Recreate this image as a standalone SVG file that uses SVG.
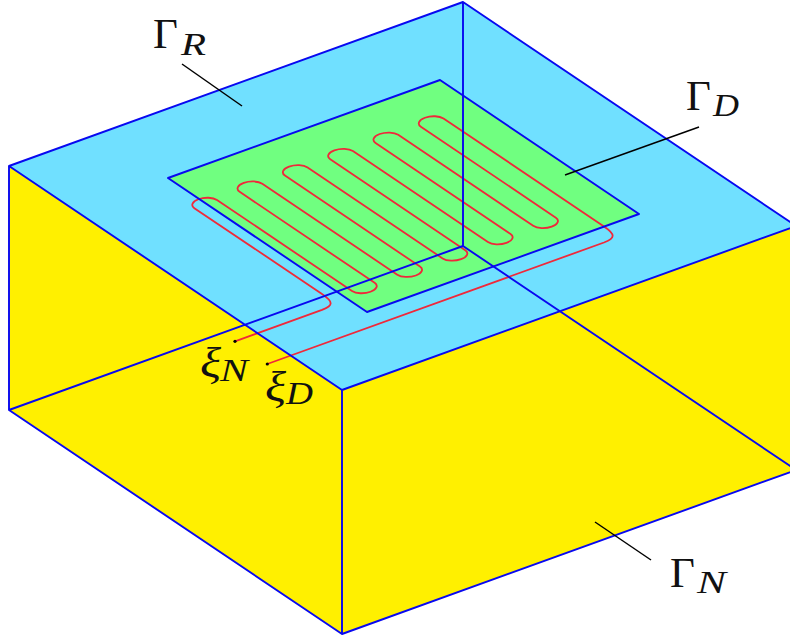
<svg xmlns="http://www.w3.org/2000/svg" width="790" height="641" viewBox="0 0 790 641">
<style>
.e{fill:none;stroke:#0808f0;stroke-width:1.9;stroke-linejoin:round}
.l{stroke:#000;stroke-width:1.5;fill:none}
.G{font-family:"Liberation Serif",serif;font-size:43px;fill:#111}
.s{font-family:"Liberation Serif",serif;font-style:italic;font-size:32px;fill:#111}
.x{font-family:"Liberation Serif",serif;font-style:italic;font-size:42px;fill:#111}
</style>
<rect width="790" height="641" fill="#fff"/>
<g id="face-left"><polygon points="9,166 342,390 342,634 9,410" fill="#fff000"/></g>
<g id="face-right"><polygon points="342,390 796,226 796,470 342,634" fill="#fff000"/></g>
<g id="face-top"><polygon points="9,166 463,2 796,226 342,390" fill="#70e0ff"/></g>
<g id="plate"><polygon points="168,178 440,80 639,214 367,312" fill="#70ff80"/></g>
<g id="heater"><path fill="none" stroke="#f0283a" stroke-width="1.8" d="M235,341.3 L322,309.9 C333.55,305.4 333.55,301.7 322,293.9 L194.35,208.15
c-3.96,-2.67 -2.1,-6.68 4.125,-8.925 c6.23,-2.24 14.565,-1.895 18.525,.775 l135,91 c3.96,2.67 12.295,3.015 18.525,.775 c6.23,-2.24 8.085,-6.255 4.125,-8.925 l-135,-91
c-3.96,-2.67 -2.1,-6.68 4.125,-8.925 c6.23,-2.24 14.565,-1.895 18.525,.775 l135,91 c3.96,2.67 12.295,3.015 18.525,.775 c6.23,-2.24 8.085,-6.255 4.125,-8.925 l-135,-91
c-3.96,-2.67 -2.1,-6.68 4.125,-8.925 c6.23,-2.24 14.565,-1.895 18.525,.775 l135,91 c3.96,2.67 12.295,3.015 18.525,.775 c6.23,-2.24 8.085,-6.255 4.125,-8.925 l-135,-91
c-3.96,-2.67 -2.1,-6.68 4.125,-8.925 c6.23,-2.24 14.565,-1.895 18.525,.775 l135,91 c3.96,2.67 12.295,3.015 18.525,.775 c6.23,-2.24 8.085,-6.255 4.125,-8.925 l-135,-91
c-3.96,-2.67 -2.1,-6.68 4.125,-8.925 c6.23,-2.24 14.565,-1.895 18.525,.775 l135,91 c3.96,2.67 12.295,3.015 18.525,.775 c6.23,-2.24 8.085,-6.255 4.125,-8.925 l-135,-91
c-3.96,-2.67 -2.1,-6.68 4.125,-8.925 c6.23,-2.24 14.565,-1.895 18.525,.775
L604,226.4 C615.55,234.2 615.55,238 604,242.5 L267.3,364"/>
<circle cx="235" cy="341.3" r="1.6" fill="#000"/><circle cx="267.3" cy="364" r="1.6" fill="#000"/></g>
<g id="edges">
<polygon class="e" points="168,178 440,80 639,214 367,312"/>
<path class="e" d="M9,166 L463,2 L796,226 L342,390 Z M342,390 V634 M9,166 V410 L342,634 L796,470 M463,2 V246 M9,410 L463,246 L796,470"/>
</g>
<g id="connectors">
<line class="l" x1="182" y1="64" x2="242" y2="106"/>
<line class="l" x1="565" y1="175" x2="699" y2="127"/>
<line class="l" x1="595" y1="522" x2="651" y2="560"/>
</g>
<g id="label-gamma-r"><text class="G" x="153" y="48">Γ</text><text class="s" x="181" y="55" textLength="25" lengthAdjust="spacingAndGlyphs">R</text></g>
<g id="label-gamma-d"><text class="G" x="686" y="110">Γ</text><text class="s" x="713" y="116" textLength="26" lengthAdjust="spacingAndGlyphs">D</text></g>
<g id="label-gamma-n"><text class="G" x="670" y="587">Γ</text><text class="s" x="697" y="593" textLength="29" lengthAdjust="spacingAndGlyphs">N</text></g>
<g id="label-xi-n"><text class="x" x="200" y="377" textLength="21" lengthAdjust="spacingAndGlyphs">ξ</text><text class="s" x="220" y="381" textLength="28" lengthAdjust="spacingAndGlyphs">N</text></g>
<g id="label-xi-d"><text class="x" x="265" y="401" textLength="21" lengthAdjust="spacingAndGlyphs">ξ</text><text class="s" x="286" y="404" textLength="27" lengthAdjust="spacingAndGlyphs">D</text></g>
</svg>
